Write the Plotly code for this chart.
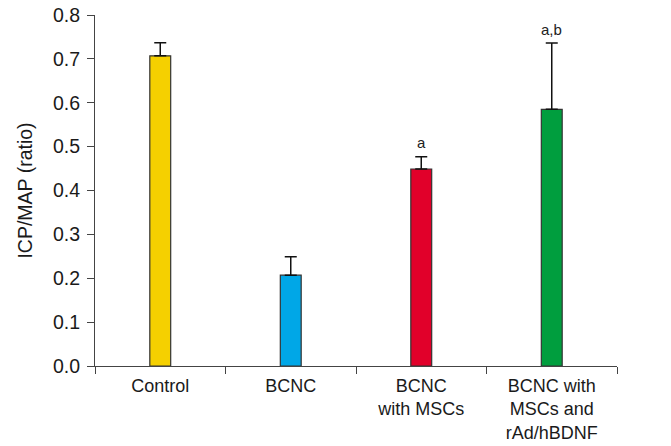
import plotly.graph_objects as go

categories = ["Control", "BCNC", "BCNC<br>with MSCs", "BCNC with<br>MSCs and<br>rAd/hBDNF"]
values = [0.707, 0.207, 0.449, 0.585]
errors = [0.030, 0.042, 0.028, 0.151]
colors = ["#F5D000", "#00A7E7", "#E1002A", "#009E3E"]
sig_labels = ["", "", "a", "a,b"]

fig = go.Figure()
fig.add_trace(go.Bar(
    x=categories, y=values,
    width=0.16,
    marker=dict(color=colors, line=dict(color="#333333", width=1.2)),
    error_y=dict(type="data", symmetric=False, array=errors,
                 arrayminus=[0]*len(errors), color="#111111",
                 thickness=1.5, width=6),
))

for c, v, e, s in zip(categories, values, errors, sig_labels):
    if s:
        fig.add_annotation(x=c, y=v + e, text=s, showarrow=False,
                           yshift=14, font=dict(size=15, color="#222222"))

fig.update_layout(
    width=671, height=446,
    margin=dict(l=95, r=54, t=15, b=80),
    paper_bgcolor="white", plot_bgcolor="white",
    font=dict(family="Liberation Sans, Arial, sans-serif", size=19.5, color="#1a1a1a"),
    showlegend=False,
    xaxis=dict(type="category", tickson="boundaries", ticks="outside", automargin=False,
               ticklen=7, tickcolor="#444444", showline=True, linecolor="#444444",
               linewidth=1.2, showgrid=False, tickfont=dict(size=18),
               ticklabelstandoff=3),
    yaxis=dict(range=[0, 0.8], dtick=0.1, tickformat=".1f", ticks="outside", automargin=False,
               ticklen=7, tickcolor="#444444", showline=True, linecolor="#444444",
               linewidth=1.2, showgrid=False, zeroline=False,
               title=dict(text="ICP/MAP (ratio)", font=dict(size=19.5)),
               tickfont=dict(size=19.5), ticklabelstandoff=3),
)

fig.write_html("out.html", config={"displayModeBar": False},
               post_script="document.body.style.margin='0px';")
